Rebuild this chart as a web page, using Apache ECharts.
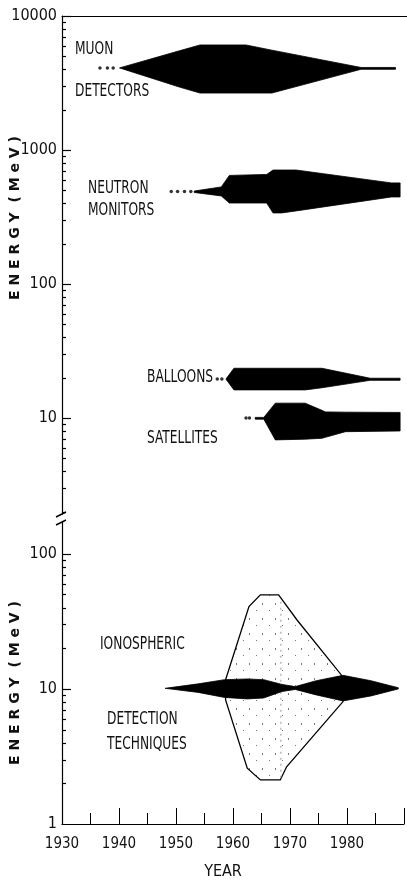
<!DOCTYPE html>
<html>
<head>
<meta charset="utf-8">
<style>
html, body { margin: 0; padding: 0; background: #fff; }
#chart { width: 407px; height: 884px; }
</style>
<script src="https://cdn.jsdelivr.net/npm/echarts@6/dist/echarts.min.js"></script>
</head>
<body>
<div id="chart"></div>
<script>
// axis ranges and ticks
var yearMin = 1930, yearMax = 1990;
var yearLabels = [1930, 1940, 1950, 1960, 1970, 1980];
var topMin = 1.92, topMax = 10000;
var botMin = 1, botMax = 172;
var topMajor = [10, 100, 1000, 10000];
var topMinor = [2, 3, 4, 5, 6, 7, 8, 9, 20, 30, 40, 50, 60, 70, 80, 90,
  200, 300, 400, 500, 600, 700, 800, 900, 2000, 3000, 4000, 5000, 6000, 7000, 8000, 9000];
var botMajor = [10, 100];
var botMinor = [2, 3, 4, 5, 6, 7, 8, 9, 20, 30, 40, 50, 60, 70, 80, 90];

// muon detectors (MeV)
var muonYears = [1940, 1950.4, 1954, 1962, 1966.5, 1982, 1988];
var muonUpper = [4100, 5495, 6080, 6080, 5560, 4130, 4130];
var muonLower = [4100, 2950, 2660, 2660, 2660, 4000, 4000];
var muonDots = [1936.6, 1937.9, 1938.9];

// neutron monitors
var neutronYears = [1953.0, 1957.7, 1959.1, 1965.6, 1966.7, 1968.2, 1970.7, 1987.3, 1988.8];
var neutronUpper = [494, 530, 646, 657, 709, 709, 709, 568, 568];
var neutronLower = [482, 454, 402, 402, 339, 339, 351, 446, 446];
var neutronDots = [1949.0, 1950.1, 1951.3, 1952.4];

// balloons
var balloonYears = [1958.5, 1959.9, 1972.3, 1975.2, 1983.6, 1988.8];
var balloonUpper = [19.5, 23.5, 23.5, 23.5, 19.8, 19.8];
var balloonLower = [19.5, 16.2, 16.2, 16.8, 19.1, 19.1];
var balloonDots = [1957.0, 1957.8];

// satellites
var satYears = [1963.6, 1965.1, 1967.1, 1972.3, 1975.2, 1975.8, 1979.3, 1988.8];
var satUpper = [10.1, 10.1, 12.9, 12.9, 11.4, 11.1, 11.05, 11.0];
var satLower = [9.8, 9.8, 6.86, 6.95, 7.05, 7.17, 7.9, 8.0];
var satDots = [1962.0, 1962.6];

// ionospheric detection techniques
var ionoYears = [1948.1, 1953.9, 1958.5, 1962.5, 1965.4, 1968.6, 1970.9, 1974.6, 1979.3, 1984.2, 1989.0];
var ionoUpper = [10.1, 10.9, 11.7, 11.85, 11.7, 10.8, 10.4, 11.5, 12.6, 11.5, 10.2];
var ionoLower = [10.1, 9.42, 8.65, 8.43, 8.57, 9.57, 9.91, 9.03, 8.15, 8.87, 10.0];
var envYears = [1958.7, 1962.8, 1964.8, 1968.0, 1971.2, 1979.0, 1979.3, 1969.4, 1968.3, 1964.8, 1962.5, 1958.7];
var envValues = [11.7, 40.7, 49.7, 49.7, 32.5, 12.7, 8.05, 2.65, 2.12, 2.12, 2.59, 8.3];

var LEFT = 62, WIDTH = 347, TOP1 = 16, H1 = 498, TOP2 = 522, H2 = 302;
var narrow = '"Liberation Sans Narrow", "DejaVu Sans Condensed", sans-serif';
var black = '#000';

// stipple for the envelope
var dots = document.createElement('canvas');
dots.width = 13; dots.height = 15;
var ctx = dots.getContext('2d');
ctx.fillStyle = '#777';
ctx.fillRect(2, 3, 1, 2);
ctx.fillRect(9, 10, 1, 1);

function powerLabel(v) {
  var l = Math.log10(v);
  return Math.abs(l - Math.round(l)) < 1e-6 ? String(Math.round(v)) : '';
}

function bandSeries(g, years, upper, lower) {
  return {
    type: 'custom', xAxisIndex: g, yAxisIndex: g, silent: true, z: 3,
    data: years.map(function (y, i) { return [y, upper[i], lower[i]]; }),
    encode: { x: 0, y: [1, 2] },
    renderItem: function (params, api) {
      if (params.dataIndex !== 0) return null;
      var pts = [], back = [];
      for (var i = 0; i < years.length; i++) {
        pts.push(api.coord([years[i], upper[i]]));
        back.unshift(api.coord([years[i], lower[i]]));
      }
      return { type: 'polygon', shape: { points: pts.concat(back) },
        style: { fill: black, stroke: black, lineWidth: 0.8 } };
    }
  };
}

function dotSeries(g, years, value) {
  return {
    type: 'scatter', xAxisIndex: g, yAxisIndex: g, silent: true,
    symbol: 'circle', symbolSize: 3.5, itemStyle: { color: black },
    data: years.map(function (y) { return [y, value]; })
  };
}

function label(text, x, y) {
  return { type: 'text', x: x, y: y, scaleX: 0.8,
    style: { text: text, font: '17px ' + narrow, fill: '#111', verticalAlign: 'middle' } };
}

var chart = echarts.init(document.getElementById('chart'));
var yLine = { show: true, onZero: false, lineStyle: { color: black, width: 1.2 } };
var yLabel = { formatter: powerLabel, margin: 5, color: '#111', fontSize: 16, fontFamily: narrow };

var baseGraphic = [
  label('MUON', 75, 50),
  label('DETECTORS', 75, 92),
  label('NEUTRON', 88, 189),
  label('MONITORS', 88, 211),
  label('BALLOONS', 147, 378),
  label('SATELLITES', 147, 439),
  label('IONOSPHERIC', 100, 645),
  label('DETECTION', 107, 720),
  label('TECHNIQUES', 107, 745),
  { type: 'text', x: 223, y: 872,
    style: { text: 'YEAR', font: '16px ' + narrow, fill: '#111', align: 'center', verticalAlign: 'middle' } },
  { type: 'text', x: 15, y: 218, rotation: Math.PI / 2,
    style: { text: 'E N E R G Y  ( M e V )', font: 'bold 14px "DejaVu Sans", sans-serif', fill: '#111',
      align: 'center', verticalAlign: 'middle' } },
  { type: 'text', x: 15, y: 683, rotation: Math.PI / 2,
    style: { text: 'E N E R G Y  ( M e V )', font: 'bold 14px "DejaVu Sans", sans-serif', fill: '#111',
      align: 'center', verticalAlign: 'middle' } },
  // axis break marks
  { type: 'rect', shape: { x: LEFT - 3, y: TOP1 + H1, width: 6, height: TOP2 - TOP1 - H1 },
    style: { fill: '#fff' } },
  { type: 'line', shape: { x1: LEFT - 6, y1: TOP1 + H1 + 3, x2: LEFT + 4, y2: TOP1 + H1 - 2 },
    style: { stroke: black, lineWidth: 1.5 } },
  { type: 'line', shape: { x1: LEFT - 6, y1: TOP2 + 3, x2: LEFT + 4, y2: TOP2 - 2 },
    style: { stroke: black, lineWidth: 1.5 } }
];

chart.setOption({
  animation: false,
  backgroundColor: '#fff',
  grid: [
    { left: LEFT, top: TOP1, width: WIDTH, height: H1 },
    { left: LEFT, top: TOP2, width: WIDTH, height: H2 }
  ],
  xAxis: [
    { type: 'value', gridIndex: 0, position: 'top', min: yearMin, max: yearMax,
      axisLine: { show: true, onZero: false, lineStyle: { color: black, width: 1.2 } },
      axisTick: { show: false }, axisLabel: { show: false }, splitLine: { show: false } },
    { type: 'value', gridIndex: 1, min: yearMin, max: yearMax, interval: 10,
      axisLine: { show: true, onZero: false, lineStyle: { color: black, width: 1.2 } },
      axisTick: { show: true, inside: true, length: 16, lineStyle: { color: black, width: 1 } },
      minorTick: { show: true, splitNumber: 2, length: 11, lineStyle: { color: black, width: 1 } },
      splitLine: { show: false },
      axisLabel: { margin: 13, color: '#111', fontSize: 15, fontFamily: narrow,
        formatter: function (v) { return yearLabels.indexOf(v) >= 0 ? String(v) : ''; } } }
  ],
  yAxis: [
    { type: 'log', gridIndex: 0, min: topMin, max: topMax, axisLine: yLine,
      axisTick: { show: false }, splitLine: { show: false }, axisLabel: yLabel },
    { type: 'log', gridIndex: 1, min: botMin, max: botMax, axisLine: yLine,
      axisTick: { show: false }, splitLine: { show: false }, axisLabel: yLabel }
  ],
  graphic: baseGraphic,
  series: [
    // envelope of ionospheric techniques
    {
      type: 'custom', xAxisIndex: 1, yAxisIndex: 1, silent: true, z: 2,
      data: envYears.map(function (y, i) { return [y, envValues[i]]; }),
      renderItem: function (params, api) {
        if (params.dataIndex !== 0) return null;
        var pts = envYears.map(function (y, i) { return api.coord([y, envValues[i]]); });
        var a = api.coord([1968.4, 2.2]), b = api.coord([1968.4, 45]);
        return { type: 'group', children: [
          { type: 'polygon', shape: { points: pts },
            style: { fill: { image: dots, repeat: 'repeat' }, stroke: black, lineWidth: 1.3 } },
          { type: 'line', shape: { x1: a[0], y1: a[1], x2: b[0], y2: b[1] },
            style: { stroke: '#999', lineWidth: 1, lineDash: [2, 4] } }
        ] };
      }
    },
    bandSeries(0, muonYears, muonUpper, muonLower),
    bandSeries(0, neutronYears, neutronUpper, neutronLower),
    bandSeries(0, balloonYears, balloonUpper, balloonLower),
    bandSeries(0, satYears, satUpper, satLower),
    bandSeries(1, ionoYears, ionoUpper, ionoLower),
    dotSeries(0, muonDots, 4100),
    dotSeries(0, neutronDots, 490),
    dotSeries(0, balloonDots, 19.5),
    dotSeries(0, satDots, 10)
  ]
});

// y ticks: positions taken from the log scales after layout
function tickLines(g, values, len) {
  return values.map(function (v) {
    var p = chart.convertToPixel({ xAxisIndex: g, yAxisIndex: g }, [yearMin, v]);
    return { type: 'line', z: 50,
      shape: { x1: p[0], y1: Math.round(p[1]) + 0.5, x2: p[0] + len, y2: Math.round(p[1]) + 0.5 },
      style: { stroke: black, lineWidth: 1.2 } };
  });
}
chart.setOption({
  graphic: baseGraphic
    .concat(tickLines(0, topMajor, 9))
    .concat(tickLines(0, topMinor, 4))
    .concat(tickLines(1, botMajor, 9))
    .concat(tickLines(1, botMinor, 4))
});
</script>
</body>
</html>
